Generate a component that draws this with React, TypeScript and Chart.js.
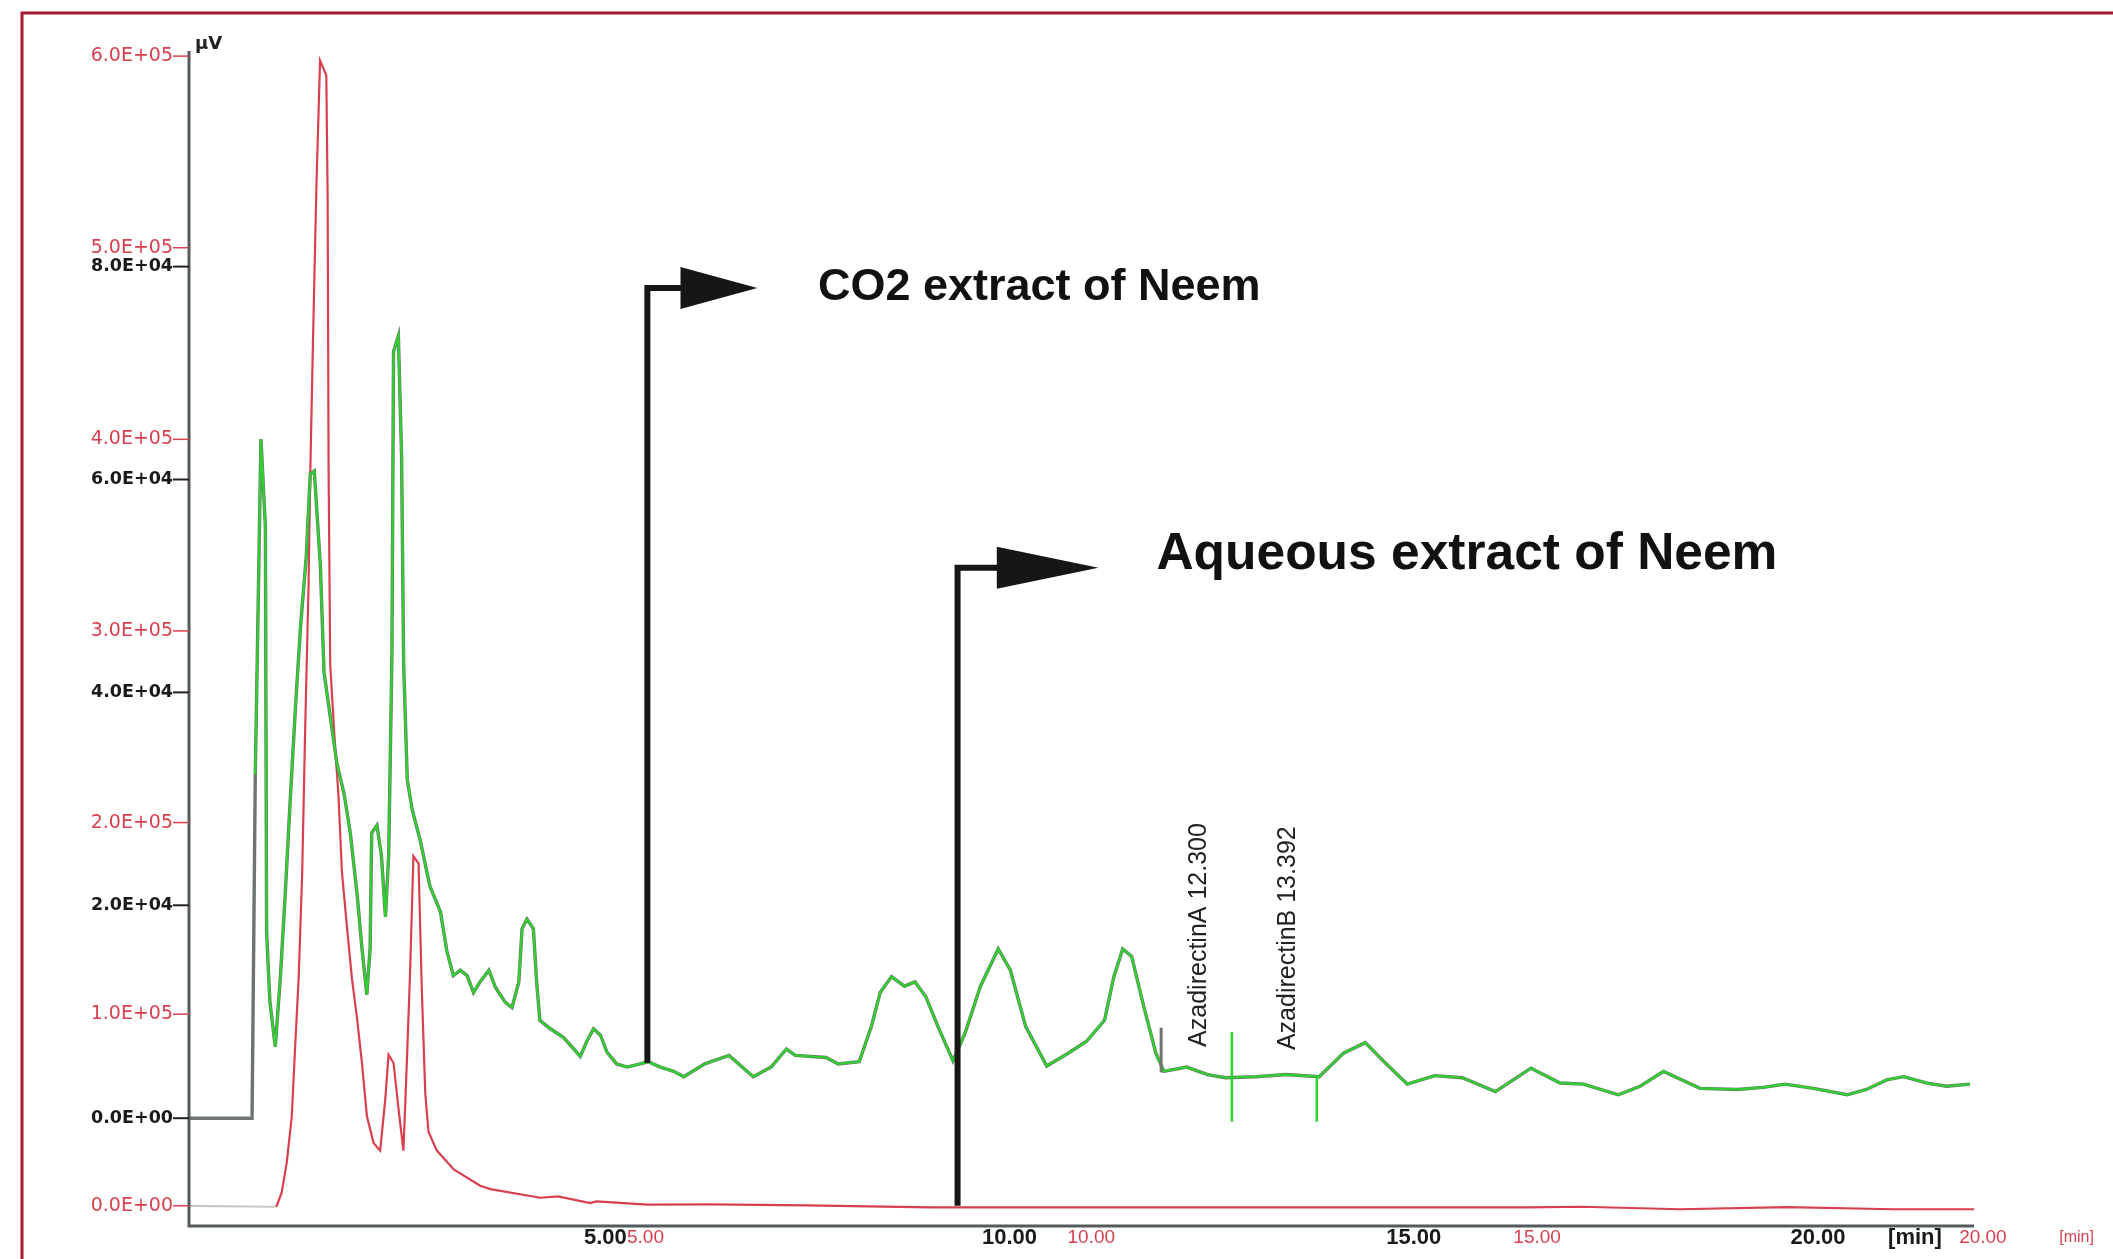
import React, { useEffect, useRef } from "react";
import { Chart, registerables } from "chart.js";

Chart.register(...registerables);

// ---- CO2 extract of Neem (green trace, black axes) ----
const co2Time = [
  -0.15, 0.63, 0.67, 0.74, 0.795, 0.81, 0.85, 0.917, 0.98, 1.04, 1.1, 1.17, 1.23, 1.3, 1.35, 1.4,
  1.475, 1.52, 1.6, 1.68, 1.77, 1.845, 1.93, 1.99, 2.05, 2.09, 2.11, 2.175, 2.23, 2.28, 2.32, 2.36,
  2.38, 2.44, 2.48, 2.505, 2.55, 2.61, 2.71, 2.83, 2.96, 3.04, 3.12, 3.205, 3.29, 3.37, 3.45, 3.56,
  3.64, 3.76, 3.845, 3.93, 3.97, 4.03, 4.11, 4.15, 4.19, 4.32, 4.48, 4.61, 4.69, 4.77, 4.855, 4.94,
  5.02, 5.14, 5.27, 5.43, 5.53, 5.68, 5.845, 5.97, 6.23, 6.53, 6.83, 7.05, 7.24, 7.35, 7.73, 7.88,
  8.14, 8.29, 8.4, 8.54, 8.7, 8.83, 8.965, 9.115, 9.3, 9.45, 9.64, 9.86, 10.01, 10.2, 10.46, 10.725,
  10.95, 11.175, 11.29, 11.4, 11.51, 11.66, 11.81, 11.91, 12.19, 12.45, 12.67, 13.05, 13.42, 13.83,
  14.13, 14.4, 14.62, 14.92, 15.26, 15.6, 16.01, 16.45, 16.81, 17.1, 17.53, 17.8, 18.09, 18.54, 19.0,
  19.325, 19.59, 19.945, 20.36, 20.6, 20.85, 21.06, 21.35, 21.59, 21.88,
];
const co2Signal = [
  0, 0, 32300, 63800, 55600, 17500, 11000, 6700, 13200, 21000, 29600, 39000, 46200, 52700, 60500, 60800,
  51900, 41900, 37600, 33300, 30400, 26800, 21000, 15900, 11600, 15900, 26800, 27500, 24700, 18900, 24700, 43300,
  72000, 73500, 62000, 42700, 31800, 29000, 26100, 21800, 19400, 15700, 13400, 13900, 13400, 11800, 12800, 13900,
  12300, 10900, 10400, 12800, 17800, 18700, 17800, 12800, 9200, 8400, 7600, 6500, 5800, 7200, 8400, 7800,
  6200, 5100, 4800, 5100, 5300, 4800, 4400, 3900, 5100, 5900, 3900, 4800, 6500, 5900, 5700, 5100,
  5300, 8600, 11800, 13300, 12400, 12800, 11400, 8600, 5400, 8000, 12400, 15900, 13900, 8600, 4900, 6100,
  7200, 9200, 13300, 15900, 15200, 10500, 6100, 4400, 4800, 4100, 3800, 3900, 4100, 3900,
  6100, 7100, 5400, 3200, 4000, 3800, 2500, 4700, 3300, 3200, 2200, 3000, 4400, 2800, 2700,
  2900, 3200, 2800, 2200, 2700, 3600, 3900, 3300, 3000, 3200,
];

// ---- Aqueous extract of Neem (red trace, red axes) ----
const aqTime = [
  -0.12, 0.79, 0.86, 0.92, 0.977, 1.033, 1.07, 1.11, 1.15, 1.18, 1.22, 1.24, 1.27, 1.31, 1.35, 1.42,
  1.435, 1.446, 1.464, 1.52, 1.556, 1.595, 1.65, 1.707, 1.763, 1.82, 1.875, 1.95, 2.024, 2.08, 2.118, 2.174,
  2.23, 2.285, 2.323, 2.36, 2.397, 2.455, 2.49, 2.53, 2.566, 2.66, 2.85, 3.145, 3.26, 3.82, 4.02, 4.38,
  4.45, 5.02, 5.73, 6.8, 8.2, 14.9, 15.5, 16.6, 17.8, 19.0, 19.9,
];
const aqSignal = [
  0, -500, -500, 7000, 22800, 46800, 82600, 118800, 174400, 242600, 322000, 381900, 450000, 533800, 597700, 590000,
  526000, 381900, 282300, 238400, 214500, 174400, 146300, 118800, 98500, 74500, 46800, 32800, 28800, 54900, 78800, 74500,
  50600, 28800, 74500, 122400, 182500, 178600, 114600, 58700, 38700, 28800, 19000, 10500, 8700, 4200, 4900, 1400,
  2300, 600, 700, 200, -800, -800, -500, -1800, -700, -1800, -1800,
];

// ---- axes ----
const blackYTicks = [0, 20000, 40000, 60000, 80000];
const blackYLabels = ["0.0E+00", "2.0E+04", "4.0E+04", "6.0E+04", "8.0E+04"];
const redYTicks = [0, 100000, 200000, 300000, 400000, 500000, 600000];
const redYLabels = ["0.0E+00", "1.0E+05", "2.0E+05", "3.0E+05", "4.0E+05", "5.0E+05", "6.0E+05"];
const blackXTicks = [5, 10, 15, 20];
const blackXLabels = ["5.00", "10.00", "15.00", "20.00"];
const redXTicks = [5, 10, 15, 20];
const redXLabels = ["5.00", "10.00", "15.00", "20.00"];
const yUnit = "µV";
const xUnit = "[min]";

// ---- peak annotations ----
const peakTimes = [12.3, 13.392];
const peakLabels = ["AzadirectinA 12.300", "AzadirectinB 13.392"];
const peakLabelBase = [6700, 6400];
const peakMarkTimes = [12.75, 13.8];
const peakMarkTop = [8100, 3900];
const peakMarkBottom = [-330, -330];

const W = 2113;
const H = 1259;

const RED = "#d8404f";
const GREEN = "#2fd12f";
const GRAY = "#6e756e";

export default function App() {
  const ref = useRef<HTMLCanvasElement | null>(null);

  useEffect(() => {
    const canvas = ref.current;
    if (!canvas) return;

    const co2Points = co2Time.map((t, i) => ({ x: t, y: co2Signal[i] }));
    const aqPoints = aqTime.map((t, i) => ({ x: t, y: aqSignal[i] }));

    const decor = {
      id: "decor",
      beforeDraw(chart: any) {
        const ctx = chart.ctx;
        ctx.save();
        ctx.fillStyle = "#ffffff";
        ctx.fillRect(0, 0, W, H);
        ctx.strokeStyle = "#a3182f";
        ctx.lineWidth = 3;
        ctx.beginPath();
        ctx.moveTo(22, H + 5);
        ctx.lineTo(22, 13);
        ctx.lineTo(W + 5, 13);
        ctx.stroke();
        ctx.restore();
      },
      afterDraw(chart: any) {
        const ctx = chart.ctx;
        const ca = chart.chartArea;
        const xB = chart.scales.xB;
        const xR = chart.scales.xR;
        const yB = chart.scales.yB;
        const yR = chart.scales.yR;
        ctx.save();

        // axes lines
        ctx.strokeStyle = "#555a5a";
        ctx.lineWidth = 3;
        ctx.beginPath();
        ctx.moveTo(ca.left, ca.top);
        ctx.lineTo(ca.left, ca.bottom);
        ctx.lineTo(ca.right, ca.bottom);
        ctx.stroke();

        // y ticks + labels
        ctx.textAlign = "right";
        ctx.textBaseline = "middle";
        redYTicks.forEach((v, i) => {
          const y = yR.getPixelForValue(v);
          ctx.strokeStyle = RED;
          ctx.lineWidth = 1.5;
          ctx.beginPath();
          ctx.moveTo(ca.left - 16, y);
          ctx.lineTo(ca.left, y);
          ctx.stroke();
          ctx.fillStyle = RED;
          ctx.font = '19px "DejaVu Sans"';
          ctx.fillText(redYLabels[i], ca.left - 16, y);
        });
        blackYTicks.forEach((v, i) => {
          const y = yB.getPixelForValue(v);
          ctx.strokeStyle = "#222";
          ctx.lineWidth = 2;
          ctx.beginPath();
          ctx.moveTo(ca.left - 16, y);
          ctx.lineTo(ca.left, y);
          ctx.stroke();
          ctx.fillStyle = "#1a1a1a";
          ctx.font = 'bold 17.5px "DejaVu Sans"';
          ctx.fillText(blackYLabels[i], ca.left - 16, y);
        });
        ctx.textAlign = "left";
        ctx.font = 'bold 18px "DejaVu Sans"';
        ctx.fillStyle = "#222";
        ctx.fillText(yUnit, ca.left + 6, ca.top - 7);

        // x labels
        ctx.textAlign = "center";
        ctx.textBaseline = "middle";
        const ly = ca.bottom + 12;
        blackXTicks.forEach((v, i) => {
          ctx.fillStyle = "#1a1a1a";
          ctx.font = 'bold 22px "Liberation Sans"';
          ctx.fillText(blackXLabels[i], xB.getPixelForValue(v), ly);
        });
        redXTicks.forEach((v, i) => {
          ctx.fillStyle = RED;
          ctx.font = '19px "Liberation Sans"';
          ctx.fillText(redXLabels[i], xR.getPixelForValue(v), ly);
        });
        ctx.fillStyle = "#1a1a1a";
        ctx.font = 'bold 22px "Liberation Sans"';
        ctx.fillText(xUnit, xB.getPixelForValue(21.2), ly);
        ctx.fillStyle = RED;
        ctx.font = '16px "Liberation Sans"';
        ctx.fillText(xUnit, xR.getPixelForValue(21.05), ly);

        // peak marks
        ctx.strokeStyle = GRAY;
        ctx.lineWidth = 3;
        ctx.beginPath();
        ctx.moveTo(xB.getPixelForValue(11.875), yB.getPixelForValue(4300));
        ctx.lineTo(xB.getPixelForValue(11.875), yB.getPixelForValue(8500));
        ctx.stroke();
        ctx.strokeStyle = GREEN;
        ctx.lineWidth = 2.5;
        peakMarkTimes.forEach((t, i) => {
          const x = xB.getPixelForValue(t);
          ctx.beginPath();
          ctx.moveTo(x, yB.getPixelForValue(peakMarkBottom[i]));
          ctx.lineTo(x, yB.getPixelForValue(peakMarkTop[i]));
          ctx.stroke();
        });

        // peak labels (rotated)
        ctx.fillStyle = "#222";
        ctx.font = '25px "Liberation Sans"';
        ctx.textAlign = "left";
        ctx.textBaseline = "middle";
        peakTimes.forEach((t, i) => {
          ctx.save();
          ctx.translate(xB.getPixelForValue(t) + 4, yB.getPixelForValue(peakLabelBase[i]));
          ctx.rotate(-Math.PI / 2);
          ctx.fillText(peakLabels[i], 0, 0);
          ctx.restore();
        });

        // arrows
        const drawArrow = (sx: any, sy: any, x: number, yBot: number, yTop: number, elbow: number, tip: number) => {
          const px = sx.getPixelForValue(x);
          const pb = sy.getPixelForValue(yBot);
          const pt = sy.getPixelForValue(yTop);
          const pe = sx.getPixelForValue(elbow);
          const ptip = sx.getPixelForValue(tip);
          ctx.strokeStyle = "#161616";
          ctx.fillStyle = "#161616";
          ctx.lineWidth = 6;
          ctx.lineJoin = "miter";
          ctx.beginPath();
          ctx.moveTo(px, pb);
          ctx.lineTo(px, pt);
          ctx.lineTo(pe + 2, pt);
          ctx.stroke();
          ctx.beginPath();
          ctx.moveTo(pe, pt - 21);
          ctx.lineTo(ptip, pt);
          ctx.lineTo(pe, pt + 21);
          ctx.closePath();
          ctx.fill();
        };
        drawArrow(xB, yB, 5.52, 5200, 78000, 5.93, 6.88);
        drawArrow(xR, yR, 8.5, 0, 333000, 8.94, 10.08);

        ctx.fillStyle = "#111";
        ctx.textAlign = "left";
        ctx.textBaseline = "middle";
        ctx.font = 'bold 45px "Liberation Sans"';
        ctx.fillText("CO2 extract of Neem", xB.getPixelForValue(7.63), yB.getPixelForValue(78000));
        ctx.font = 'bold 51.5px "Liberation Sans"';
        ctx.fillText("Aqueous extract of Neem", xR.getPixelForValue(10.73), yR.getPixelForValue(340000));

        ctx.restore();
      },
    };

    const chart = new Chart(canvas, {
      type: "line",
      data: {
        datasets: [
          {
            label: "CO2 extract of Neem",
            data: co2Points,
            xAxisID: "xB",
            yAxisID: "yB",
            borderColor: GREEN,
            borderWidth: 2.2,
            pointRadius: 0,
            tension: 0,
            segment: {
              borderColor: (c: any) => (c.p1DataIndex <= 2 ? "rgba(0,0,0,0)" : GREEN),
            },
          },
          {
            label: "CO2 trace",
            data: co2Points,
            xAxisID: "xB",
            yAxisID: "yB",
            borderColor: GRAY,
            borderWidth: 3.4,
            pointRadius: 0,
            tension: 0,
          },
          {
            label: "Aqueous extract of Neem",
            data: aqPoints,
            xAxisID: "xR",
            yAxisID: "yR",
            borderColor: RED,
            borderWidth: 2.2,
            pointRadius: 0,
            tension: 0,
            segment: {
              borderColor: (c: any) => (c.p1DataIndex <= 2 ? "#c8c8c8" : RED),
            },
          },
        ] as any,
      },
      options: {
        responsive: false,
        animation: false,
        devicePixelRatio: 1,
        layout: { padding: { left: 189, top: 51, right: 139, bottom: 33 } },
        plugins: { legend: { display: false }, tooltip: { enabled: false } },
        events: [],
        scales: {
          xB: { type: "linear", display: false, min: -0.15, max: 21.93 },
          xR: { type: "linear", display: false, min: -0.12, max: 19.9 },
          yB: { type: "linear", display: false, min: -10127, max: 100253 },
          yR: { type: "linear", display: false, min: -10549, max: 602670 },
        },
      } as any,
      plugins: [decor],
    });
    return () => chart.destroy();
  }, []);

  return (
    <div style={{ position: "fixed", left: 0, top: 0, width: W, height: H, overflow: "hidden", background: "#fff" }}>
      <canvas ref={ref} width={W} height={H} style={{ display: "block", width: W, height: H }} />
    </div>
  );
}
